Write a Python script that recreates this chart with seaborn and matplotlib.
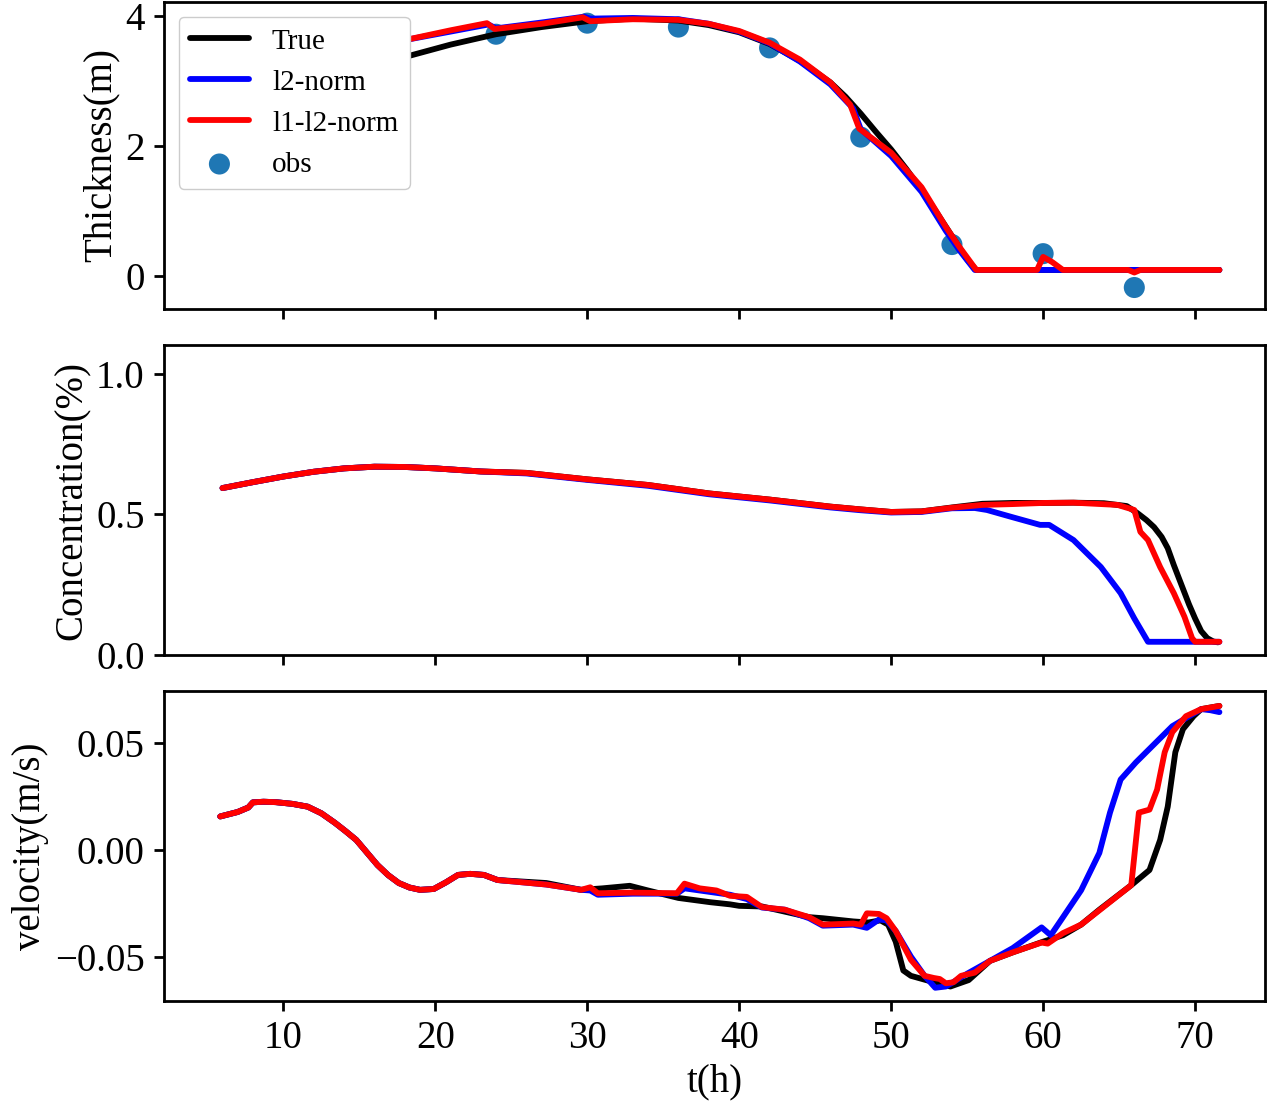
import numpy as np
import pandas as pd
import matplotlib
matplotlib.use("Agg")
import matplotlib.pyplot as plt
import seaborn as sns

# ---- thickness (m) ----
t_h_true = [6, 9, 12, 15, 18, 21, 24, 27, 30, 33, 36, 38, 40, 42, 44, 46, 47, 48, 49, 50,
            51, 52, 53, 54, 55, 55.6, 60, 66, 71.6]
h_true = [2.55, 2.8, 3.0, 3.2, 3.37, 3.56, 3.72, 3.83, 3.92, 3.96, 3.93, 3.86, 3.75, 3.57, 3.31, 2.98,
          2.76, 2.5, 2.22, 1.95, 1.65, 1.33, 0.98, 0.62, 0.26, 0.1, 0.1, 0.1, 0.1]

t_h_l2 = [6, 10, 14, 18, 21, 23.5, 24, 27, 29.8, 30.2, 33, 36, 38, 40, 42, 44, 46, 47.5, 48,
          50, 52, 53.6, 54.5, 55.5, 60, 66, 71.6]
h_l2 = [2.9, 3.2, 3.45, 3.63, 3.76, 3.87, 3.81, 3.9, 3.99, 3.96, 3.97, 3.95, 3.88, 3.76, 3.58,
        3.3, 2.95, 2.58, 2.26, 1.85, 1.3, 0.7, 0.4, 0.1, 0.1, 0.1, 0.1]

t_h_l1l2 = [6, 10, 14, 18, 21, 23.4, 23.9, 27, 29.7, 30.2, 33, 36, 38, 40, 42, 44, 46, 47.3,
            47.9, 50, 52, 53.6, 54.5, 55.6, 59.6, 60, 60.6, 61.3, 65.6, 66, 66.4, 71.6]
h_l1l2 = [2.9, 3.2, 3.45, 3.63, 3.78, 3.89, 3.8, 3.88, 3.98, 3.92, 3.95, 3.94, 3.88, 3.77, 3.59,
          3.33, 2.98, 2.64, 2.27, 1.9, 1.37, 0.76, 0.45, 0.1, 0.1, 0.3, 0.22, 0.1, 0.1, 0.06, 0.1, 0.1]

t_obs = [24, 30, 36, 42, 48, 54, 60, 66]
h_obs = [3.72, 3.89, 3.83, 3.51, 2.14, 0.49, 0.35, -0.17]

# ---- concentration (%) ----
t_c_true = [6, 8, 10, 12, 14, 16, 18, 20, 23, 26, 30, 34, 38, 42, 46, 48, 50, 52, 54, 56, 58, 60,
            62, 64, 65.5, 66.2, 66.8, 67.3, 67.8, 68.2, 68.6, 69.1, 69.6, 70.0, 70.4, 70.8, 71.2,
            71.5]
c_true = [0.594, 0.615, 0.635, 0.652, 0.664, 0.67, 0.669, 0.664, 0.653, 0.648, 0.625, 0.605, 0.575,
          0.553, 0.528, 0.518, 0.509, 0.511, 0.525, 0.538, 0.541, 0.541, 0.542, 0.54, 0.53, 0.505,
          0.48, 0.455, 0.42, 0.38, 0.32, 0.25, 0.18, 0.13, 0.085, 0.06, 0.048, 0.045]

t_c_l2 = [6, 8, 10, 12, 14, 16, 18, 20, 23, 26, 30, 34, 38, 42, 46, 48, 50, 52, 54, 55.5, 56.3,
          58, 59.8, 60.4, 62, 63.8, 65.1, 66, 66.9, 71.6]
c_l2 = [0.594, 0.615, 0.635, 0.652, 0.664, 0.67, 0.669, 0.664, 0.653, 0.646, 0.623, 0.602, 0.572,
        0.55, 0.525, 0.515, 0.507, 0.509, 0.522, 0.523, 0.516, 0.49, 0.463, 0.463, 0.409, 0.313,
        0.22, 0.13, 0.047, 0.047]

t_c_l1l2 = [6, 8, 10, 12, 14, 16, 18, 20, 23, 26, 30, 34, 38, 42, 46, 48, 50, 52, 54, 56, 58, 60,
            62, 64.9, 66, 66.4, 66.9, 67.7, 68.6, 69.3, 69.8, 70.0, 71.6]
c_l1l2 = [0.594, 0.615, 0.635, 0.652, 0.664, 0.67, 0.669, 0.664, 0.653, 0.648, 0.625, 0.605, 0.575,
          0.553, 0.528, 0.518, 0.509, 0.511, 0.524, 0.534, 0.537, 0.541, 0.542, 0.534, 0.516,
          0.438, 0.409, 0.313, 0.22, 0.136, 0.06, 0.047, 0.047]

# ---- velocity (m/s) ----
t_v_true = [5.85, 7.0, 7.7, 8.0, 8.7, 9.5, 10.6, 11.6, 12.5, 13.4, 14.1, 14.8, 15.5, 16.2, 16.9,
            17.6, 18.3, 19.0, 19.9, 20.7, 21.5, 22.3, 23.2, 24.1, 27.3,
            29.6, 31, 32.8, 34, 36, 38.1, 39.4, 40, 41.5, 44.6, 45.5, 47.5, 48.5, 49.3, 49.8, 50.3,
            50.8, 51.3, 52.3, 53.9, 55.1, 56.5, 58, 60, 61.3, 62.5, 63.7, 65.8, 67, 67.7, 68.2,
            68.7, 69.2, 69.9, 70.4, 71.6]
v_true = [0.0157, 0.0178, 0.0199, 0.0223, 0.0226, 0.0224, 0.0216, 0.0203, 0.0172, 0.0127, 0.0088,
          0.0047, -0.0012, -0.0071, -0.0118, -0.0155, -0.0176, -0.0187, -0.0183, -0.0152, -0.0117,
          -0.0112, -0.0117, -0.0141, -0.0155, -0.0187, -0.018, -0.0168, -0.019, -0.0225,
          -0.0245, -0.0255, -0.0262, -0.0265, -0.0315, -0.032, -0.0335, -0.034, -0.033, -0.035,
          -0.043, -0.0565, -0.059, -0.061, -0.064, -0.061, -0.052, -0.048, -0.043, -0.04, -0.035,
          -0.028, -0.0165, -0.0094, 0.0047, 0.0203, 0.0458, 0.0566, 0.0627, 0.066, 0.0675]

t_v_l2 = [5.85, 7.0, 7.7, 8.0, 8.7, 9.5, 10.6, 11.6, 12.5, 13.4, 14.1, 14.8, 15.5, 16.2, 16.9,
          17.6, 18.3, 19.0, 19.9, 20.7, 21.5, 22.3, 23.2, 24.1, 27.3,
          29.6, 30.2, 30.7, 33, 35.9, 36.4, 37.4, 39.4, 40.5, 41.5, 43, 44.6, 45.5, 47.5, 48.4,
          49.2, 49.7, 50.3, 51.3, 52.2, 52.9, 53.6, 54.3, 55, 56.5, 58, 59.9, 60.5, 61.3, 62.5,
          63.7, 64.4, 65.1, 66.1, 68.5, 70.4, 71.0, 71.6]
v_l2 = [0.0157, 0.0178, 0.0199, 0.0223, 0.0226, 0.0224, 0.0216, 0.0203, 0.0172, 0.0127, 0.0088,
        0.0047, -0.0012, -0.0071, -0.0118, -0.0155, -0.0176, -0.0187, -0.0183, -0.0152, -0.0117,
        -0.0112, -0.0117, -0.0141, -0.0162, -0.0187, -0.019, -0.021, -0.0205, -0.0205,
        -0.018, -0.019, -0.021, -0.023, -0.027, -0.028, -0.032, -0.0355, -0.035, -0.0365, -0.0326,
        -0.033, -0.038, -0.05, -0.059, -0.0646, -0.064, -0.061, -0.058, -0.052, -0.046, -0.0363,
        -0.04, -0.0316, -0.0189, -0.0014, 0.0175, 0.033, 0.041, 0.058, 0.066, 0.0655, 0.0646]

t_v_l1l2 = [5.85, 7.0, 7.7, 8.0, 8.7, 9.5, 10.6, 11.6, 12.5, 13.4, 14.1, 14.8, 15.5, 16.2, 16.9,
            17.6, 18.3, 19.0, 19.9, 20.7, 21.5, 22.3, 23.2, 24.1, 27.3,
            29.6, 30.2, 30.7, 33, 35.9, 36.4, 37.4, 38.5, 39.4, 40.5, 41.5, 43, 44.6, 45.5, 47.5,
            48, 48.4, 49.2, 49.7, 50.3, 51.3, 52.2, 52.8, 53.2, 53.6, 54.1, 54.6, 55.5, 56.5, 58,
            59.9, 60.3, 61.3, 62.5, 63.7, 65.8, 66.3, 67, 67.5, 68, 68.5, 69.4, 70.4, 71.6]
v_l1l2 = [0.0157, 0.0178, 0.0199, 0.0223, 0.0226, 0.0224, 0.0216, 0.0203, 0.0172, 0.0127, 0.0088,
          0.0047, -0.0012, -0.0071, -0.0118, -0.0155, -0.0176, -0.0187, -0.0183, -0.0152, -0.0117,
          -0.0112, -0.0117, -0.0141, -0.0162, -0.0187, -0.0175, -0.0203, -0.02, -0.0203,
          -0.0158, -0.018, -0.019, -0.0215, -0.022, -0.0268, -0.028, -0.0315, -0.035, -0.0345,
          -0.035, -0.0297, -0.03, -0.032, -0.038, -0.0515, -0.059, -0.06, -0.0605, -0.0625, -0.062,
          -0.059, -0.0575, -0.052, -0.048, -0.0434, -0.0439, -0.039, -0.035, -0.0283, -0.0165,
          0.0175, 0.0189, 0.0283, 0.0458, 0.0552, 0.0627, 0.066, 0.0675]

xticks = [10, 20, 30, 40, 50, 60, 70]

sns.set_theme(style="ticks", rc={"axes.edgecolor": "black", "xtick.color": "black",
                                 "ytick.color": "black", "text.color": "black",
                                 "axes.labelcolor": "black"})
plt.rcParams['font.family'] = ['Liberation Serif', 'DejaVu Serif']

W, H = 1268, 1108
fig = plt.figure(figsize=(W / 100, H / 100), dpi=100)


def add_panel(top, bottom, left=164, right=1265):
    # pixel box -> figure fraction
    return fig.add_axes([left / W, 1 - bottom / H, (right - left) / W, (bottom - top) / H])


ax1 = add_panel(2, 309)
ax2 = add_panel(345, 655)
ax3 = add_panel(691, 1001)

lw = 4.2
sns.lineplot(x=t_h_true, y=h_true, ax=ax1, color="black", lw=lw, label="True", sort=False)
sns.lineplot(x=t_h_l2, y=h_l2, ax=ax1, color="blue", lw=lw, label="l2-norm", sort=False)
sns.lineplot(x=t_h_l1l2, y=h_l1l2, ax=ax1, color="red", lw=lw, label="l1-l2-norm", sort=False)
sns.scatterplot(x=t_obs, y=h_obs, ax=ax1, color="#1f77b4", s=230, edgecolor="none",
                label="obs", zorder=1)

sns.lineplot(x=t_c_true, y=c_true, ax=ax2, color="black", lw=lw, sort=False)
sns.lineplot(x=t_c_l2, y=c_l2, ax=ax2, color="blue", lw=lw, sort=False)
sns.lineplot(x=t_c_l1l2, y=c_l1l2, ax=ax2, color="red", lw=lw, sort=False)

sns.lineplot(x=t_v_true, y=v_true, ax=ax3, color="black", lw=lw, sort=False)
sns.lineplot(x=t_v_l2, y=v_l2, ax=ax3, color="blue", lw=lw, sort=False)
sns.lineplot(x=t_v_l1l2, y=v_l1l2, ax=ax3, color="red", lw=lw, sort=False)

ax1.set_ylim(-0.5, 4.215)
ax1.set_yticks([0, 2, 4])
ax2.set_ylim(0, 1.103)
ax2.set_yticks([0.0, 0.5, 1.0])
ax2.set_yticklabels(["0.0", "0.5", "1.0"])
ax3.set_ylim(-0.0708, 0.0745)
ax3.set_yticks([-0.05, 0.0, 0.05])
ax3.set_yticklabels(["\u22120.05", "0.00", "0.05"])

for ax in (ax1, ax2, ax3):
    ax.set_xlim(2.15, 74.6)
    ax.set_xticks(xticks)
    ax.tick_params(labelsize=28, length=7, width=2, direction="out", pad=7)
    for sp in ax.spines.values():
        sp.set_linewidth(2)
        sp.set_color("black")
for ax in (ax1, ax2):
    ax.set_xticklabels([])
    ax.set_xlabel("")

ax1.set_ylabel("Thickness(m)", fontsize=28)
ax2.set_ylabel("Concentration(%)", fontsize=28)
ax3.set_ylabel("velocity(m/s)", fontsize=28)
ax3.set_xlabel("t(h)", fontsize=28, labelpad=4)

ax1.legend(loc="upper left", fontsize=21, framealpha=1, edgecolor="0.8", fancybox=True)

fig.savefig("out.png", dpi=100)
